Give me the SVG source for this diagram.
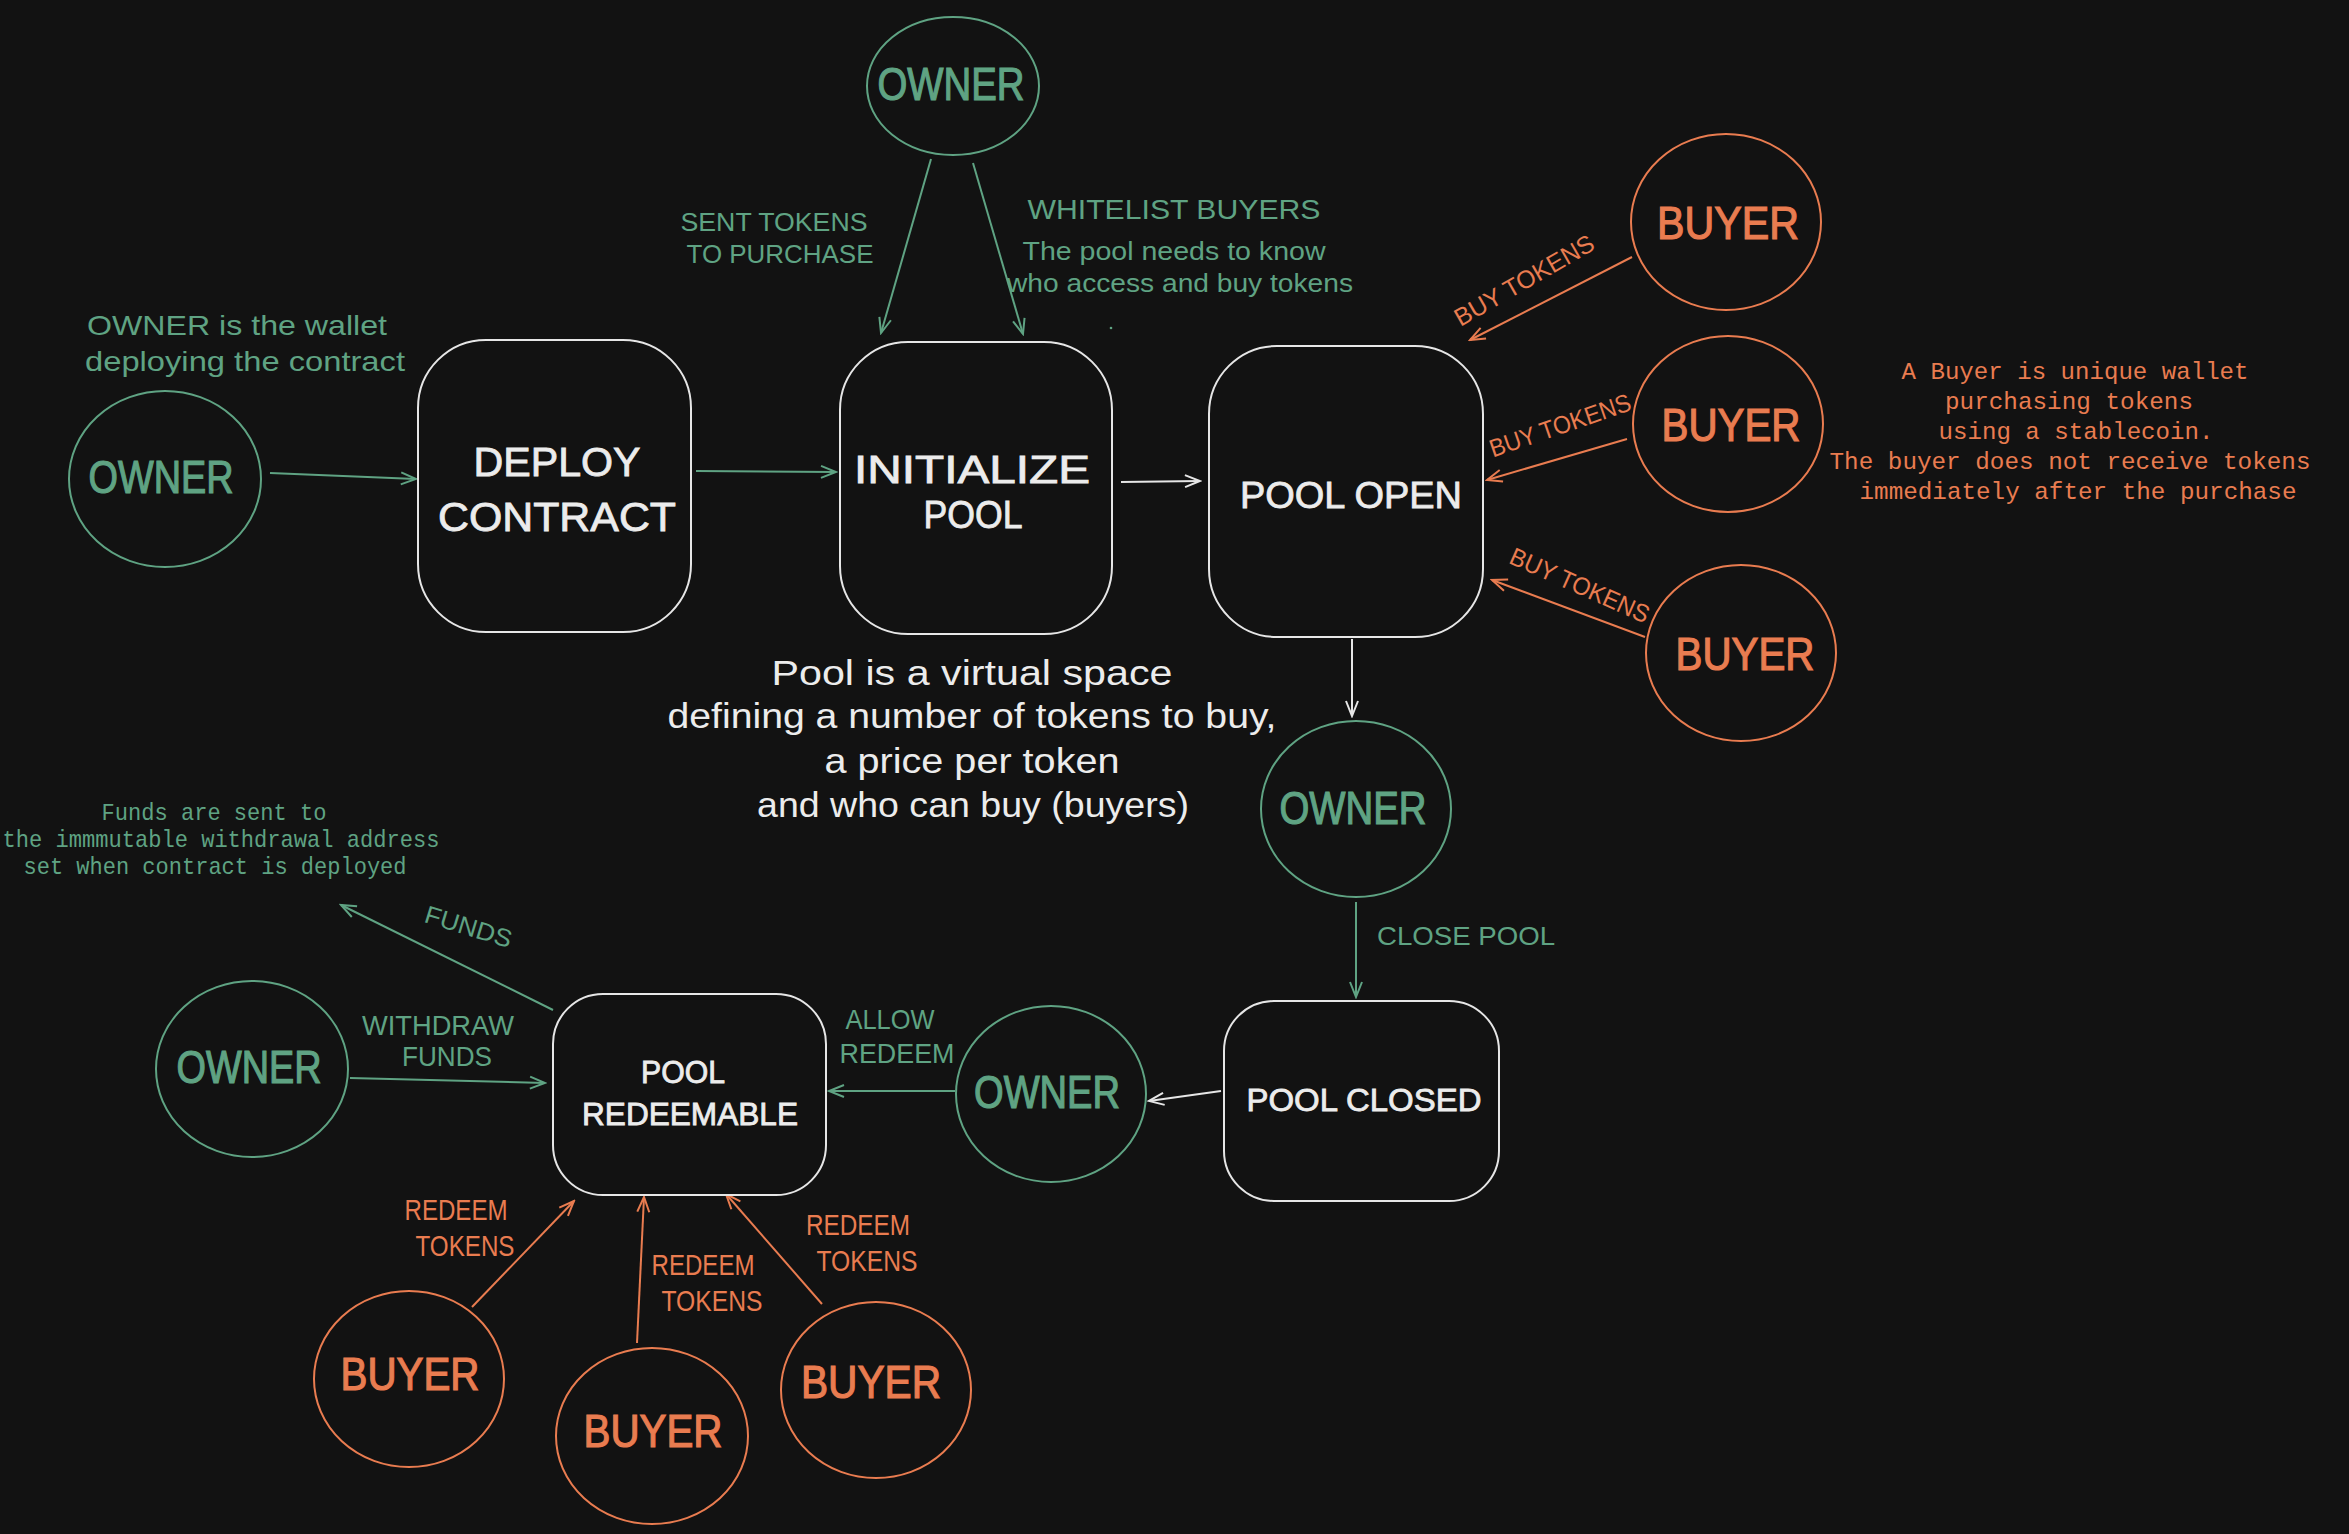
<svg xmlns="http://www.w3.org/2000/svg" width="2349" height="1534" viewBox="0 0 2349 1534">
<style>
.bg{fill:#121212}
.sw{fill:#121212;stroke:#e6e6e6;stroke-width:2}
.sg{fill:#121212;stroke:#5fa383;stroke-width:2}
.so{fill:#121212;stroke:#e97c50;stroke-width:2}
.t{font-family:"Liberation Sans","DejaVu Sans",sans-serif;text-anchor:middle}
.m{font-family:"Liberation Mono","DejaVu Sans Mono",monospace;text-anchor:middle}
.w{fill:#ececec}
.g{fill:#5fa383}
.o{fill:#e97c50}
.big{font-size:46px;stroke-width:1.2}
.g.big{stroke:#5fa383}
.o.big{stroke:#e97c50}
.hw{stroke:#ececec;stroke-width:0.8}
.lw{stroke:#e6e6e6;stroke-width:2;fill:none}
.lg{stroke:#5fa383;stroke-width:2;fill:none}
.lo{stroke:#e97c50;stroke-width:2;fill:none}
</style>
<defs>
<marker id="aw" viewBox="0 0 20 20" refX="18" refY="10" markerWidth="20" markerHeight="20" markerUnits="userSpaceOnUse" orient="auto"><path d="M3,4 L18,10 L3,16" fill="none" stroke="#e6e6e6" stroke-width="2"/></marker>
<marker id="ag" viewBox="0 0 20 20" refX="18" refY="10" markerWidth="20" markerHeight="20" markerUnits="userSpaceOnUse" orient="auto"><path d="M3,4 L18,10 L3,16" fill="none" stroke="#5fa383" stroke-width="2"/></marker>
<marker id="ao" viewBox="0 0 20 20" refX="18" refY="10" markerWidth="20" markerHeight="20" markerUnits="userSpaceOnUse" orient="auto"><path d="M3,4 L18,10 L3,16" fill="none" stroke="#e97c50" stroke-width="2"/></marker>
</defs>
<rect class="bg" x="0" y="0" width="2349" height="1534"/>

<g id="connectors">
<line class="lg" x1="270" y1="473" x2="416" y2="479" marker-end="url(#ag)"/>
<line class="lg" x1="696" y1="471" x2="836" y2="472" marker-end="url(#ag)"/>
<line class="lw" x1="1121" y1="482" x2="1200" y2="481" marker-end="url(#aw)"/>
<line class="lg" x1="931" y1="159" x2="881" y2="333" marker-end="url(#ag)"/>
<line class="lg" x1="973" y1="163" x2="1023" y2="334" marker-end="url(#ag)"/>
<line class="lo" x1="1632" y1="257" x2="1470" y2="340" marker-end="url(#ao)"/>
<line class="lo" x1="1627" y1="439" x2="1487" y2="480" marker-end="url(#ao)"/>
<line class="lo" x1="1645" y1="637" x2="1492" y2="580" marker-end="url(#ao)"/>
<line class="lw" x1="1352" y1="639" x2="1352" y2="716" marker-end="url(#aw)"/>
<line class="lg" x1="1356" y1="902" x2="1356" y2="997" marker-end="url(#ag)"/>
<line class="lw" x1="1221" y1="1091" x2="1149" y2="1101" marker-end="url(#aw)"/>
<line class="lg" x1="955" y1="1091" x2="829" y2="1091" marker-end="url(#ag)"/>
<line class="lg" x1="350" y1="1078" x2="545" y2="1083" marker-end="url(#ag)"/>
<line class="lg" x1="553" y1="1010" x2="341" y2="905" marker-end="url(#ag)"/>
<line class="lo" x1="472" y1="1307" x2="574" y2="1201" marker-end="url(#ao)"/>
<line class="lo" x1="637" y1="1343" x2="644" y2="1197" marker-end="url(#ao)"/>
<line class="lo" x1="822" y1="1304" x2="726" y2="1194" marker-end="url(#ao)"/>
</g>

<g id="labels">
<text class="t g" font-size="25" x="774" y="231" textLength="187" lengthAdjust="spacingAndGlyphs">SENT TOKENS</text>
<text class="t g" font-size="25" x="780" y="263" textLength="187" lengthAdjust="spacingAndGlyphs">TO PURCHASE</text>
<text class="t g" font-size="27" x="1174" y="219" textLength="293" lengthAdjust="spacingAndGlyphs">WHITELIST BUYERS</text>
<text class="t g" font-size="25" x="1174" y="260" textLength="303" lengthAdjust="spacingAndGlyphs">The pool needs to know</text>
<text class="t g" font-size="25" x="1180" y="292" textLength="346" lengthAdjust="spacingAndGlyphs">who access and buy tokens</text>
<circle cx="1111" cy="328" r="1.3" fill="#5fa383"/>
<text class="t g" font-size="28" x="237" y="335" textLength="300" lengthAdjust="spacingAndGlyphs">OWNER is the wallet</text>
<text class="t g" font-size="28" x="245" y="371" textLength="320" lengthAdjust="spacingAndGlyphs">deploying the contract</text>
<text class="t o" font-size="25" transform="translate(1524,280) rotate(-30)" x="0" y="9" textLength="157" lengthAdjust="spacingAndGlyphs">BUY TOKENS</text>
<text class="t o" font-size="25" transform="translate(1560,425) rotate(-19)" x="0" y="9" textLength="148" lengthAdjust="spacingAndGlyphs">BUY TOKENS</text>
<text class="t o" font-size="25" transform="translate(1580,585) rotate(24)" x="0" y="9" textLength="150" lengthAdjust="spacingAndGlyphs">BUY TOKENS</text>
<text class="m o" font-size="24" x="2075" y="379" textLength="347" lengthAdjust="spacingAndGlyphs">A Buyer is unique wallet</text>
<text class="m o" font-size="24" x="2069" y="409" textLength="248" lengthAdjust="spacingAndGlyphs">purchasing tokens</text>
<text class="m o" font-size="24" x="2076" y="439" textLength="275" lengthAdjust="spacingAndGlyphs">using a stablecoin.</text>
<text class="m o" font-size="24" x="2070" y="469" textLength="481" lengthAdjust="spacingAndGlyphs">The buyer does not receive tokens</text>
<text class="m o" font-size="24" x="2078" y="499" textLength="437" lengthAdjust="spacingAndGlyphs">immediately after the purchase</text>
<text class="t w" font-size="35" x="972" y="685" textLength="401" lengthAdjust="spacingAndGlyphs">Pool is a virtual space</text>
<text class="t w" font-size="35" x="972" y="728" textLength="609" lengthAdjust="spacingAndGlyphs">defining a number of tokens to buy,</text>
<text class="t w" font-size="35" x="972" y="773" textLength="295" lengthAdjust="spacingAndGlyphs">a price per token</text>
<text class="t w" font-size="35" x="973" y="817" textLength="432" lengthAdjust="spacingAndGlyphs">and who can buy (buyers)</text>
<text class="m g" font-size="24" x="214" y="820" textLength="225" lengthAdjust="spacingAndGlyphs">Funds are sent to</text>
<text class="m g" font-size="24" x="221" y="847" textLength="437" lengthAdjust="spacingAndGlyphs">the immmutable withdrawal address</text>
<text class="m g" font-size="24" x="215" y="874" textLength="383" lengthAdjust="spacingAndGlyphs">set when contract is deployed</text>
<text class="t g" font-size="25" x="1466" y="945" textLength="178" lengthAdjust="spacingAndGlyphs">CLOSE POOL</text>
<text class="t g" font-size="28" x="890" y="1029" textLength="89" lengthAdjust="spacingAndGlyphs">ALLOW</text>
<text class="t g" font-size="28" x="897" y="1063" textLength="115" lengthAdjust="spacingAndGlyphs">REDEEM</text>
<text class="t g" font-size="28" x="438" y="1035" textLength="152" lengthAdjust="spacingAndGlyphs">WITHDRAW</text>
<text class="t g" font-size="28" x="447" y="1066" textLength="90" lengthAdjust="spacingAndGlyphs">FUNDS</text>
<text class="t g" font-size="25" transform="translate(466,935) rotate(17)" x="0" y="0" textLength="90" lengthAdjust="spacingAndGlyphs">FUNDS</text>
<text class="t o" font-size="30" x="456" y="1220" textLength="103" lengthAdjust="spacingAndGlyphs">REDEEM</text>
<text class="t o" font-size="30" x="465" y="1256" textLength="99" lengthAdjust="spacingAndGlyphs">TOKENS</text>
<text class="t o" font-size="30" x="703" y="1275" textLength="103" lengthAdjust="spacingAndGlyphs">REDEEM</text>
<text class="t o" font-size="30" x="712" y="1311" textLength="101" lengthAdjust="spacingAndGlyphs">TOKENS</text>
<text class="t o" font-size="30" x="858" y="1235" textLength="104" lengthAdjust="spacingAndGlyphs">REDEEM</text>
<text class="t o" font-size="30" x="867" y="1271" textLength="101" lengthAdjust="spacingAndGlyphs">TOKENS</text>
</g>

<g id="owner-top"><ellipse class="sg" cx="953" cy="86" rx="86" ry="69"/><text class="t g big" x="951" y="100" textLength="147" lengthAdjust="spacingAndGlyphs">OWNER</text></g>
<g id="owner-left"><ellipse class="sg" cx="165" cy="479" rx="96" ry="88"/><text class="t g big" x="161" y="493" textLength="145" lengthAdjust="spacingAndGlyphs">OWNER</text></g>
<g id="deploy-contract"><rect class="sw" x="418" y="340" width="273" height="292" rx="68"/><text class="t w hw" font-size="40" x="557" y="476" textLength="167" lengthAdjust="spacingAndGlyphs">DEPLOY</text><text class="t w hw" font-size="40" x="557" y="531" textLength="238" lengthAdjust="spacingAndGlyphs">CONTRACT</text></g>
<g id="initialize-pool"><rect class="sw" x="840" y="342" width="272" height="292" rx="68"/><text class="t w hw" font-size="38" x="972" y="483" textLength="236" lengthAdjust="spacingAndGlyphs">INITIALIZE</text><text class="t w hw" font-size="38" x="973" y="528" textLength="99" lengthAdjust="spacingAndGlyphs">POOL</text></g>
<g id="pool-open"><rect class="sw" x="1209" y="346" width="274" height="291" rx="68"/><text class="t w hw" font-size="37" x="1351" y="508" textLength="222" lengthAdjust="spacingAndGlyphs">POOL OPEN</text></g>
<g id="buyer-1"><ellipse class="so" cx="1726" cy="222" rx="95" ry="88"/><text class="t o big" x="1728" y="239" textLength="142" lengthAdjust="spacingAndGlyphs">BUYER</text></g>
<g id="buyer-2"><ellipse class="so" cx="1728" cy="424" rx="95" ry="88"/><text class="t o big" x="1731" y="441" textLength="139" lengthAdjust="spacingAndGlyphs">BUYER</text></g>
<g id="buyer-3"><ellipse class="so" cx="1741" cy="653" rx="95" ry="88"/><text class="t o big" x="1745" y="670" textLength="139" lengthAdjust="spacingAndGlyphs">BUYER</text></g>
<g id="owner-close"><ellipse class="sg" cx="1356" cy="809" rx="95" ry="88"/><text class="t g big" x="1353" y="824" textLength="147" lengthAdjust="spacingAndGlyphs">OWNER</text></g>
<g id="pool-closed"><rect class="sw" x="1224" y="1001" width="275" height="200" rx="50"/><text class="t w hw" font-size="32" x="1364" y="1111" textLength="235" lengthAdjust="spacingAndGlyphs">POOL CLOSED</text></g>
<g id="owner-allow"><ellipse class="sg" cx="1051" cy="1094" rx="95" ry="88"/><text class="t g big" x="1047" y="1108" textLength="146" lengthAdjust="spacingAndGlyphs">OWNER</text></g>
<g id="pool-redeemable"><rect class="sw" x="553" y="994" width="273" height="201" rx="50"/><text class="t w hw" font-size="31" x="683" y="1083" textLength="84" lengthAdjust="spacingAndGlyphs">POOL</text><text class="t w hw" font-size="31" x="690" y="1125" textLength="216" lengthAdjust="spacingAndGlyphs">REDEEMABLE</text></g>
<g id="owner-withdraw"><ellipse class="sg" cx="252" cy="1069" rx="96" ry="88"/><text class="t g big" x="249" y="1083" textLength="145" lengthAdjust="spacingAndGlyphs">OWNER</text></g>
<g id="buyer-4"><ellipse class="so" cx="409" cy="1379" rx="95" ry="88"/><text class="t o big" x="410" y="1390" textLength="139" lengthAdjust="spacingAndGlyphs">BUYER</text></g>
<g id="buyer-5"><ellipse class="so" cx="652" cy="1436" rx="96" ry="88"/><text class="t o big" x="653" y="1447" textLength="139" lengthAdjust="spacingAndGlyphs">BUYER</text></g>
<g id="buyer-6"><ellipse class="so" cx="876" cy="1390" rx="95" ry="88"/><text class="t o big" x="871" y="1398" textLength="140" lengthAdjust="spacingAndGlyphs">BUYER</text></g>
</svg>
